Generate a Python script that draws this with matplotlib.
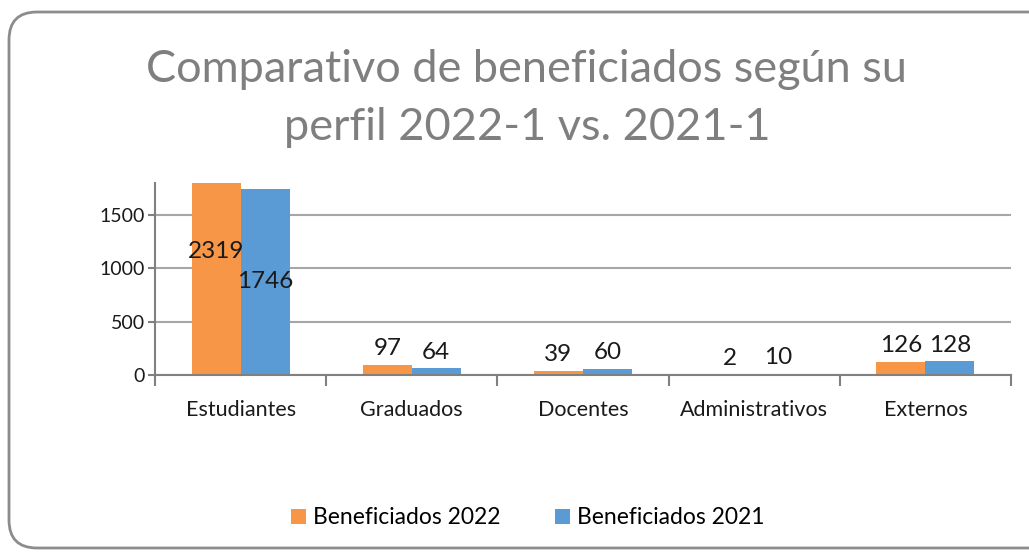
import numpy as np
import matplotlib.pyplot as plt
from matplotlib.patches import FancyBboxPatch

plt.rcParams['font.family'] = ['Lato', 'DejaVu Sans']

categorias = ['Estudiantes', 'Graduados', 'Docentes', 'Administrativos', 'Externos']
beneficiados_2022 = [2319, 97, 39, 2, 126]
beneficiados_2021 = [1746, 64, 60, 10, 128]
yticks = [0, 500, 1000, 1500]

naranja = '#F79646'
azul = '#5B9BD5'
gris = '#A6A6A6'

fig = plt.figure(figsize=(10.29, 5.52), dpi=100)
ax = fig.add_axes([0.1506, 0.3207, 0.8319, 0.3478])

# marco redondeado del grafico (en pulgadas, el borde derecho queda fuera)
marco = FancyBboxPatch((0.09, 0.04), 10.6, 5.36, boxstyle='round,pad=0,rounding_size=0.28',
                       transform=fig.dpi_scale_trans, fill=False, edgecolor='#8C8C8C', linewidth=2)
fig.patches.append(marco)

x = np.arange(len(categorias))
w = 0.286
b1 = ax.bar(x - w / 2, beneficiados_2022, w, color=naranja, label='Beneficiados 2022', zorder=2)
b2 = ax.bar(x + w / 2, beneficiados_2021, w, color=azul, label='Beneficiados 2021', zorder=2)

ax.set_ylim(0, 1800)
ax.set_xlim(-0.5, len(categorias) - 0.5)
ax.set_yticks(yticks)
ax.yaxis.grid(True, color=gris, linewidth=1.5, zorder=0)
ax.set_axisbelow(True)

# etiquetas de datos
for barras in (b1, b2):
    for rect in barras:
        v = rect.get_height()
        cx = rect.get_x() + rect.get_width() / 2
        if v > 1000:
            ax.text(cx, v / 2, str(v), ha='center', va='center', fontsize=17.5, color='#1A1A1A', zorder=3)
        else:
            ax.annotate(str(v), (cx, v), xytext=(0, 4), textcoords='offset points',
                        ha='center', va='bottom', fontsize=17.5, color='#1A1A1A')

ax.set_xticks(x)
ax.set_xticklabels(categorias, fontsize=15.5, color='#1A1A1A')
ax.set_xticks(np.arange(-0.5, len(categorias)), minor=True)
ax.tick_params(axis='x', which='major', length=0, pad=18)
ax.tick_params(axis='x', which='minor', length=8, color='#808080', width=1.5)
ax.tick_params(axis='y', length=5, color='#808080', width=1.5, labelsize=14, labelcolor='#1A1A1A', pad=2)

for lado in ['top', 'right']:
    ax.spines[lado].set_visible(False)
ax.spines['left'].set_color('#808080')
ax.spines['bottom'].set_color('#808080')
ax.spines['left'].set_linewidth(1.5)
ax.spines['bottom'].set_linewidth(1.5)

fig.text(0.512, 0.822, 'Comparativo de beneficiados según su\nperfil 2022-1 vs. 2021-1',
         ha='center', va='center', fontsize=32.5, color='#7F7F7F', linespacing=1.5)

fig.legend(loc='center', bbox_to_anchor=(0.513, 0.062), ncol=2, frameon=False,
           fontsize=16.5, handlelength=0.65, handleheight=0.65, handletextpad=0.3, columnspacing=2.4)

fig.savefig('out.png', dpi=100)
